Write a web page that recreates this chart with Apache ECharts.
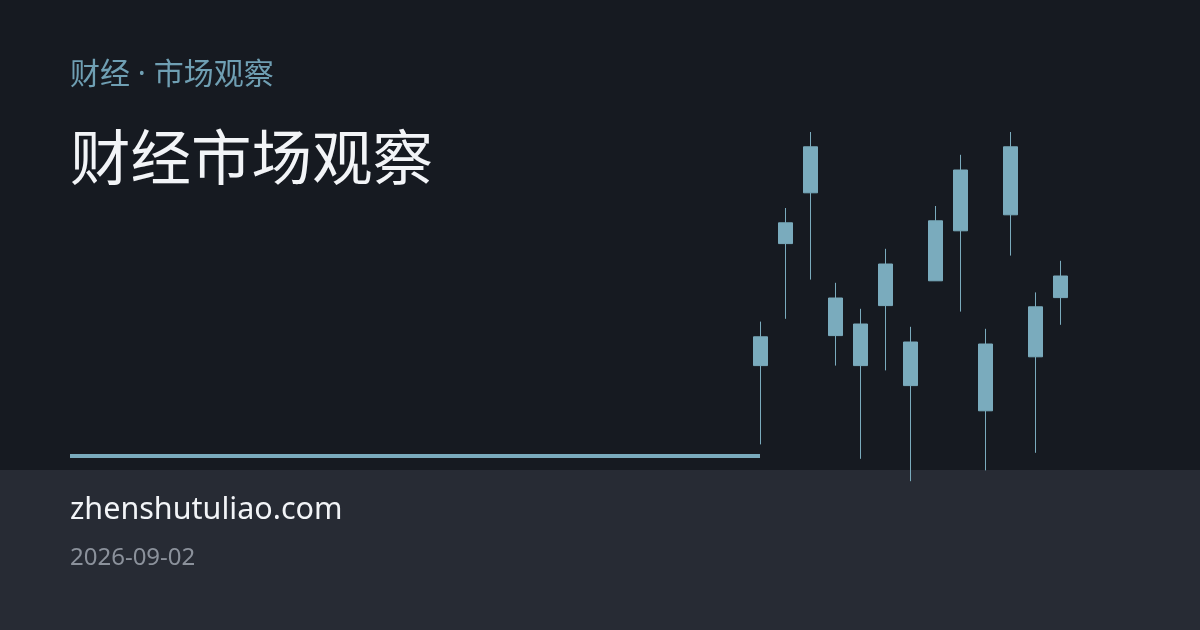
<!DOCTYPE html>
<html>
<head>
<meta charset="utf-8">
<title>财经市场观察</title>
<script src="https://cdn.jsdelivr.net/npm/echarts@6/dist/echarts.min.js"></script>
<style>
  html, body { margin: 0; padding: 0; background: #161a21; }
  #chart { width: 1200px; height: 630px; }
</style>
</head>
<body>
<div id="chart"></div>
<script>
// K线数据（按图片读取的估值）
const days = ['D1', 'D2', 'D3', 'D4', 'D5', 'D6', 'D7', 'D8', 'D9', 'D10', 'D11', 'D12', 'D13']
const opens = [33.6, 64.1, 76.8, 50.5, 44.0, 48.6, 39.5, 54.8, 67.3, 39.0, 71.3, 35.8, 50.6]
const closes = [40.8, 69.3, 88.3, 41.1, 33.6, 59.0, 28.6, 69.8, 82.5, 22.3, 88.3, 48.3, 56.0]
const lows = [13.9, 45.3, 55.1, 33.6, 10.3, 32.4, 4.7, 54.8, 47.1, 7.4, 61.1, 11.8, 43.8]
const highs = [44.6, 73.0, 92.0, 54.3, 47.8, 62.8, 43.3, 73.5, 86.3, 42.8, 92.0, 51.9, 59.8]

// 文字
const kicker = '财经 · 市场观察'
const title = '财经市场观察'
const site = 'zhenshutuliao.com'
const dateText = '2026-09-02'

const accent = '#7aabbd'
// 拉丁字体在前，中文回退到 CJK
const textFont = '"Noto Sans", "Noto Sans CJK SC", sans-serif'

const chart = echarts.init(document.getElementById('chart'))

// echarts 需要 [open, close, low, high]
const candles = days.map((d, i) => [opens[i], closes[i], lows[i], highs[i]])

chart.setOption({
  backgroundColor: '#161a21',
  animation: false,
  grid: { left: 747.8, right: 127.2, top: 100, bottom: 130 },
  xAxis: {
    type: 'category',
    data: days,
    show: false,
    boundaryGap: true
  },
  yAxis: {
    type: 'value',
    min: 0,
    max: 100,
    show: false,
    splitLine: { show: false }
  },
  graphic: [
    // 底部信息栏
    {
      type: 'rect',
      z: -10,
      shape: { x: 0, y: 470, width: 1200, height: 160 },
      style: { fill: '#272b34' }
    },
    // 强调线
    {
      type: 'rect',
      z: 1,
      shape: { x: 70, y: 454, width: 690, height: 4 },
      style: { fill: accent }
    },
    {
      type: 'text',
      z: 5,
      style: {
        text: kicker,
        x: 70,
        y: 75,
        fill: '#6f9fb3',
        font: '30px ' + textFont,
        verticalAlign: 'middle'
      }
    },
    {
      type: 'text',
      z: 5,
      style: {
        text: title,
        x: 70,
        y: 162.5,
        fill: '#f2f4f7',
        font: '60.5px ' + textFont,
        verticalAlign: 'middle'
      }
    },
    {
      type: 'text',
      z: 5,
      style: {
        text: site,
        x: 70,
        y: 510,
        fill: '#f2f4f7',
        font: '30.5px ' + textFont,
        verticalAlign: 'middle'
      }
    },
    {
      type: 'text',
      z: 5,
      style: {
        text: dateText,
        x: 70,
        y: 558,
        fill: '#8b919b',
        font: '24px ' + textFont,
        verticalAlign: 'middle'
      }
    }
  ],
  series: [
    {
      type: 'candlestick',
      data: candles,
      barWidth: 15,
      itemStyle: {
        color: accent,
        color0: accent,
        borderColor: accent,
        borderColor0: accent,
        borderWidth: 1
      }
    }
  ]
})
</script>
</body>
</html>
